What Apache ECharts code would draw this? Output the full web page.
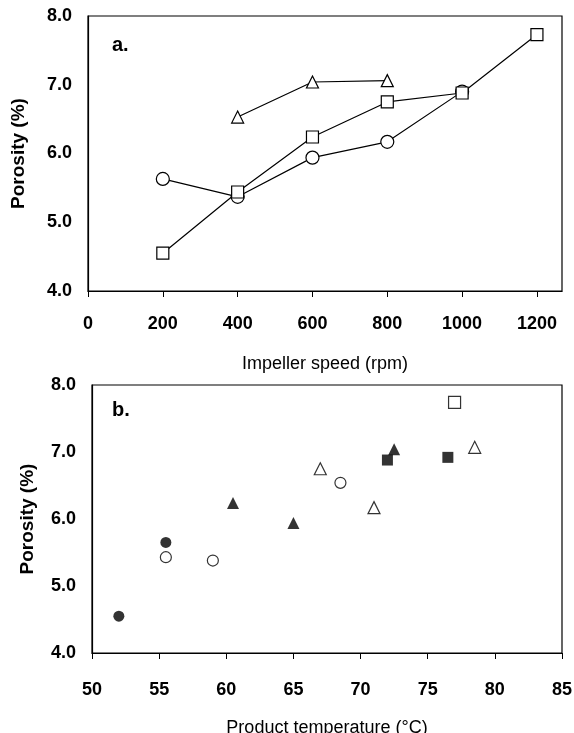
<!DOCTYPE html>
<html><head><meta charset="utf-8">
<script src="https://cdn.jsdelivr.net/npm/echarts@6/dist/echarts.min.js"></script>
<style>html,body{margin:0;padding:0;background:#fff}#c{width:574px;height:733px}</style>
</head><body><div id="c"></div>
<script>
// Panel a: porosity vs impeller speed
const speedCircles = [[200,5.63],[400,5.37],[600,5.94],[800,6.17],[1000,6.90]];
const speedSquares = [[200,4.55],[400,5.44],[600,6.24],[800,6.75],[1000,6.88],[1200,7.73]];
const speedTriangles = [[400,6.53],[600,7.04],[800,7.06]];
// Panel b: porosity vs product temperature
const tempFilledCircles = [[52,4.55],[55.5,5.65]];
const tempOpenCircles = [[55.5,5.43],[59,5.38],[68.5,6.54]];
const tempFilledTriangles = [[60.5,6.24],[65,5.94],[72.5,7.04]];
const tempOpenTriangles = [[67,6.75],[71,6.17],[78.5,7.07]];
const tempFilledSquares = [[72,6.88],[76.5,6.92]];
const tempOpenSquares = [[77,7.74]];
const yTicks = ['4.0','5.0','6.0','7.0','8.0'];

const F = 'Liberation Sans, Arial, sans-serif';
const chart = echarts.init(document.getElementById('c'), null, {renderer:'canvas'});
const axLine = {show:true, lineStyle:{color:'#000', width:1.2}};
function yAxis(i){
  return {gridIndex:i, type:'value', min:4, max:8, interval:1,
    axisLine:axLine, axisTick:{show:false}, splitLine:{show:false},
    axisLabel:{color:'#000', fontFamily:F, fontWeight:'bold', fontSize:18, margin:16,
      formatter:v=>yTicks[Math.round(v-4)]}};
}
function openSeries(name, data, sym, size, xi, line){
  return {type: line?'line':'scatter', name, data, xAxisIndex:xi, yAxisIndex:xi,
    symbol:sym, symbolSize:size, showSymbol:true,
    lineStyle:{color:'#000', width:1.2},
    itemStyle:{color:'#fff', borderColor:'#000', borderWidth:1.2}, z:3};
}
function filledSeries(name, data, sym, size, xi){
  return {type:'scatter', name, data, xAxisIndex:xi, yAxisIndex:xi,
    symbol:sym, symbolSize:size, itemStyle:{color:'#000'}};
}
chart.setOption({
  animation:false,
  backgroundColor:'#fff',
  grid:[
    {left:88, top:16, right:12, height:275, show:true, borderColor:'#000', borderWidth:1.2, backgroundColor:'transparent', outerBoundsMode:'none', containLabel:false},
    {left:92, top:385, right:12, height:268, show:true, borderColor:'#000', borderWidth:1.2, backgroundColor:'transparent', outerBoundsMode:'none', containLabel:false}
  ],
  xAxis:[
    {gridIndex:0, type:'value', min:0, max:1267, interval:200,
      axisLine:axLine, axisTick:{show:true, length:6, lineStyle:{color:'#000'}}, splitLine:{show:false},
      axisLabel:{color:'#000', fontFamily:F, fontWeight:'bold', fontSize:18, margin:24, showMaxLabel:false,
        formatter:v=>(v%200===0?String(v):'')},
      name:'Impeller speed (rpm)', nameLocation:'middle', nameGap:64,
      nameTextStyle:{color:'#000', fontFamily:F, fontSize:18}},
    {gridIndex:1, type:'value', min:50, max:85, interval:5,
      axisLine:axLine, axisTick:{show:true, length:6, lineStyle:{color:'#000'}}, splitLine:{show:false},
      axisLabel:{color:'#000', fontFamily:F, fontWeight:'bold', fontSize:18, margin:28},
      name:'Product temperature (\u00B0C)', nameLocation:'middle', nameGap:66,
      nameTextStyle:{color:'#000', fontFamily:F, fontSize:18}}
  ],
  yAxis:[
    Object.assign(yAxis(0), {name:'Porosity (%)', nameLocation:'middle', nameGap:60,
      nameTextStyle:{color:'#000', fontFamily:F, fontWeight:'bold', fontSize:19}}),
    Object.assign(yAxis(1), {name:'Porosity (%)', nameLocation:'middle', nameGap:55,
      nameTextStyle:{color:'#000', fontFamily:F, fontWeight:'bold', fontSize:19}})
  ],
  graphic:[
    {type:'text', left:112, top:35, style:{text:'a.', font:'bold 20px '+F, fill:'#000'}},
    {type:'text', left:112, top:400, style:{text:'b.', font:'bold 20px '+F, fill:'#000'}}
  ],
  series:[
    openSeries('circles', speedCircles, 'circle', 13, 0, true),
    openSeries('squares', speedSquares, 'rect', 12, 0, true),
    openSeries('triangles', speedTriangles, 'triangle', 12, 0, true),
    filledSeries('fc', tempFilledCircles, 'circle', 11, 1),
    openSeries('oc', tempOpenCircles, 'circle', 11, 1, false),
    filledSeries('ft', tempFilledTriangles, 'triangle', 12, 1),
    openSeries('ot', tempOpenTriangles, 'triangle', 12, 1, false),
    filledSeries('fs', tempFilledSquares, 'rect', 11, 1),
    openSeries('os', tempOpenSquares, 'rect', 12, 1, false)
  ]
});
</script></body></html>
